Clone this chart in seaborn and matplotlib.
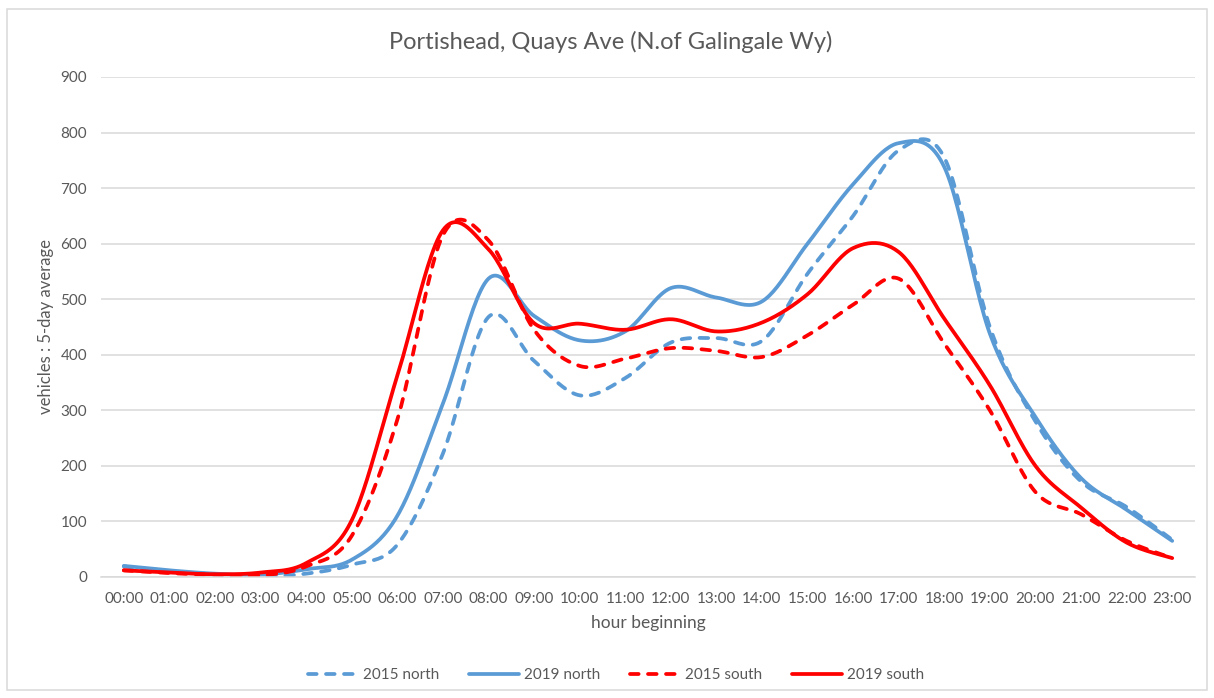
import numpy as np
import pandas as pd
import matplotlib
matplotlib.use("Agg")
import matplotlib.pyplot as plt
from matplotlib.patches import Rectangle
import seaborn as sns

hours = ["%02d:00" % h for h in range(24)]
north_2015 = [19, 10, 4, 1, 6, 22, 58, 222, 468, 389, 327, 358, 422, 430, 425, 546, 650, 768, 755, 450, 280, 172, 126, 67]
north_2019 = [20, 12, 6, 4, 14, 31, 110, 312, 537, 470, 426, 442, 520, 503, 496, 600, 707, 781, 738, 438, 288, 178, 121, 65]
south_2015 = [12, 7, 4, 3, 19, 74, 283, 615, 606, 445, 380, 393, 412, 407, 396, 435, 490, 537, 420, 300, 153, 113, 65, 34]
south_2019 = [12, 8, 5, 8, 25, 102, 362, 624, 590, 457, 456, 445, 464, 442, 458, 509, 592, 585, 465, 345, 200, 125, 62, 34]

series = [
    ("2015 north", north_2015, "#5B9BD5", True),
    ("2019 north", north_2019, "#5B9BD5", False),
    ("2015 south", south_2015, "#FF0000", True),
    ("2019 south", south_2019, "#FF0000", False),
]


def excel_smooth(y, steps=24):
    """Smoothed-line rendering (Bezier through the data points, like Excel)."""
    x = np.arange(len(y), dtype=float)
    y = np.asarray(y, dtype=float)
    n = len(y)
    xs, ys = [], []
    for i in range(n - 1):
        i0, i3 = max(i - 1, 0), min(i + 2, n - 1)
        p0 = np.array([x[i], y[i]])
        p3 = np.array([x[i + 1], y[i + 1]])
        c1 = p0 + (np.array([x[i + 1], y[i + 1]]) - np.array([x[i0], y[i0]])) / 6.0
        c2 = p3 - (np.array([x[i3], y[i3]]) - np.array([x[i], y[i]])) / 6.0
        t = np.linspace(0, 1, steps, endpoint=(i == n - 2))[:, None]
        pts = ((1 - t) ** 3) * p0 + 3 * ((1 - t) ** 2) * t * c1 + 3 * (1 - t) * t ** 2 * c2 + t ** 3 * p3
        xs.append(pts[:, 0])
        ys.append(pts[:, 1])
    return np.concatenate(xs), np.concatenate(ys)


sns.set_style("white")
plt.rcParams["font.family"] = ["Lato", "DejaVu Sans"]

fig = plt.figure(figsize=(12.14, 6.98), dpi=100)
ax = fig.add_axes([101 / 1214, 1 - 577 / 698, (1195 - 101) / 1214, 500 / 698])

for name, vals, col, dashed in series:
    sx, sy = excel_smooth(vals)
    kw = dict(solid_capstyle="round", dash_capstyle="round")
    if dashed:
        kw["linestyle"] = (0, (2.3, 2.5))
    sns.lineplot(x=sx, y=sy, ax=ax, color=col, linewidth=2.7, sort=False,
                 label=name, estimator=None, **kw)

ax.set_xlim(-0.5, 23.5)
ax.set_ylim(0, 900)
ax.set_yticks(range(0, 901, 100))
ax.yaxis.grid(True, color="#D9D9D9", linewidth=1.1)
ax.xaxis.grid(False)
ax.set_axisbelow(True)
ax.set_xticks(range(24))
ax.set_xticklabels(hours)
ax.set_xticks(np.arange(-0.5, 24, 1.0), minor=True)
ax.tick_params(axis="x", which="both", length=5, width=1.1, color="#D9D9D9",
               direction="out", labelsize=11, labelcolor="#595959", pad=6)
ax.tick_params(axis="y", length=0, labelsize=11, labelcolor="#595959", pad=10)
for s in ["top", "right", "left"]:
    ax.spines[s].set_visible(False)
ax.spines["bottom"].set_color("#D9D9D9")
ax.spines["bottom"].set_linewidth(1.1)

ax.set_xlabel("hour beginning", fontsize=12.5, color="#595959", labelpad=6)
ax.set_ylabel("vehicles : 5-day average", fontsize=12, color="#595959")
ax.yaxis.set_label_coords(-0.043, 0.5)
fig.text(611 / 1214, 1 - 42 / 698, "Portishead, Quays Ave (N.of Galingale Wy)",
         ha="center", va="center", fontsize=17, color="#595959")

handles, labels = ax.get_legend_handles_labels()
if ax.legend_:
    ax.legend_.remove()
fig.legend(handles, labels, loc="center", bbox_to_anchor=(616 / 1214, 1 - 675 / 698),
           ncol=4, frameon=False, fontsize=11, labelcolor="#595959",
           handlelength=3.3, handletextpad=0.35, columnspacing=1.9)

fig.add_artist(Rectangle((7 / 1214, 1 - 690 / 698), 1200 / 1214, 681 / 698,
                         transform=fig.transFigure, fill=False,
                         edgecolor="#D9D9D9", linewidth=1.1))

fig.savefig("out.png", dpi=100)
